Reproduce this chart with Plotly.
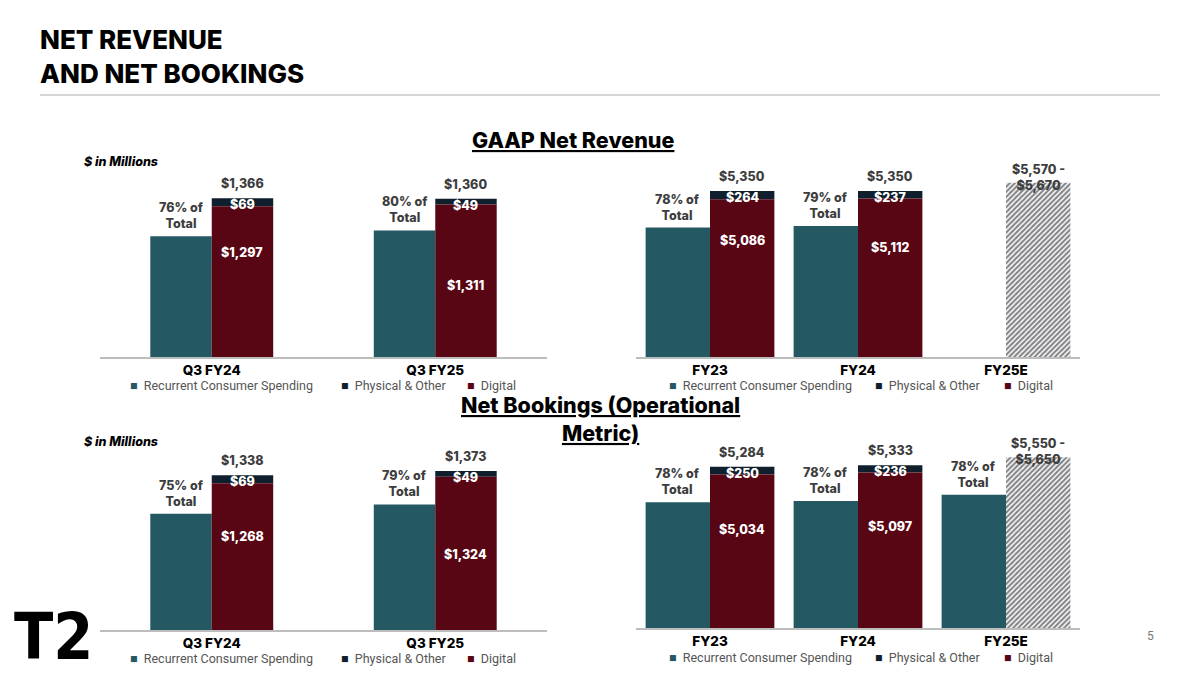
import plotly.graph_objects as go

# ---- data (in $ millions) ----
q_cats = ["Q3 FY24", "Q3 FY25"]
fy_cats = ["FY23", "FY24", "FY25E"]
series_names = ["Recurrent Consumer Spending", "Physical & Other", "Digital"]

rev_q_rcs = [1038, 1088]
rev_q_digital = [1297, 1311]
rev_q_physical = [69, 49]
rev_q_total = [1366, 1360]
rev_q_pct = [76, 80]

rev_fy_rcs = [4173, 4227, None]
rev_fy_digital = [5086, 5112, None]
rev_fy_physical = [264, 237, None]
rev_fy_total = [5350, 5350, None]
rev_fy_pct = [78, 79, None]
rev_fy25e_outlook = 5620
rev_fy25e_range = ["$5,570", "$5,670"]

bk_q_rcs = [1004, 1085]
bk_q_digital = [1268, 1324]
bk_q_physical = [69, 49]
bk_q_total = [1338, 1373]
bk_q_pct = [75, 79]

bk_fy_rcs = [4122, 4160, 4368]
bk_fy_digital = [5034, 5097, None]
bk_fy_physical = [250, 236, None]
bk_fy_total = [5284, 5333, None]
bk_fy_pct = [78, 78, 78]
bk_fy25e_outlook = 5600
bk_fy25e_range = ["$5,550", "$5,650"]

TEAL = "#245862"
WINE = "#590614"
NAVY = "#0f1f2d"
GREY_TXT = "#3d3d3d"
FONT = "Inter"
colors = [TEAL, NAVY, WINE]

W, H = 1200, 675


def px_x(a, b):
    return [a / W, b / W]


def px_y(top, bottom):
    return [1 - bottom / H, 1 - top / H]


fig = go.Figure()
annotations = []


def money(v):
    return "$" + format(v, ",")


def page_text(x_px, y_px, text, font, xanchor="center", **kw):
    # text placed in page pixels; anchors are explicit so plotly's "auto" doesn't move it
    annotations.append(dict(x=x_px / W, y=1 - y_px / H, xref="paper", yref="paper",
                            xanchor=xanchor, yanchor=kw.pop("yanchor", "middle"),
                            text=text, showarrow=False, font=font, **kw))


def add_legend(x_positions, y_px):
    # hand-drawn legend so the square sits close to its label, as on the slide
    for name, col, x0 in zip(series_names, colors, x_positions):
        page_text(x0, y_px, f"<span style='color:{col}'>■</span>  {name}",
                  dict(family="Roboto", size=12.5, color="#555555"), xanchor="left")


def add_panel(n, cats, rcs, digital, physical, total, pct, label_frac, width,
              outlook=None, outlook_range=None):
    sfx = "" if n == 1 else str(n)
    xa, ya = "x" + sfx, "y" + sfx
    bold = dict(family=FONT, size=12.5, color=GREY_TXT, weight=800)
    white = dict(family=FONT, size=12.5, color="white", weight=800)

    fig.add_trace(go.Bar(x=cats, y=rcs, name=series_names[0],
                         marker=dict(color=TEAL, line_width=0), width=width,
                         offset=-width, xaxis=xa, yaxis=ya, hoverinfo="skip"))
    fig.add_trace(go.Bar(x=cats, y=physical, base=digital, name=series_names[1],
                         marker=dict(color=NAVY, line_width=0), width=width,
                         offset=0, xaxis=xa, yaxis=ya, hoverinfo="skip"))
    fig.add_trace(go.Bar(x=cats, y=digital, name=series_names[2],
                         marker=dict(color=WINE, line_width=0), width=width,
                         offset=0, xaxis=xa, yaxis=ya, hoverinfo="skip"))

    if outlook is not None:
        fig.add_trace(go.Bar(x=[cats[-1]], y=[outlook], name="Outlook",
                             marker=dict(color="white", line_width=0,
                                         pattern=dict(shape="/", fgcolor="#080a10",
                                                      bgcolor="white", size=3.6,
                                                      solidity=0.6)),
                             width=width, offset=0, xaxis=xa, yaxis=ya,
                             hoverinfo="skip"))
        annotations.append(dict(x=len(cats) - 1 + width / 2, y=outlook, xref=xa, yref=ya,
                                text=outlook_range[0] + " -<br>" + outlook_range[1],
                                showarrow=False, yanchor="bottom", yshift=-12, font=bold))

    for i in range(len(cats)):
        if pct[i] is not None:
            annotations.append(dict(x=i - width / 2, y=rcs[i], xref=xa, yref=ya,
                                    text=f"{pct[i]}% of<br>Total", showarrow=False,
                                    yanchor="bottom", yshift=3, font=bold))
        if total[i] is not None:
            annotations.append(dict(x=i + width / 2, y=total[i], xref=xa, yref=ya,
                                    text=money(total[i]), showarrow=False,
                                    yanchor="bottom", yshift=5, font=bold))
            annotations.append(dict(x=i + width / 2, y=total[i], xref=xa, yref=ya,
                                    text=money(physical[i]), showarrow=False,
                                    yanchor="top", yshift=3, font=white))
            annotations.append(dict(x=i + width / 2, y=digital[i] * label_frac[i],
                                    xref=xa, yref=ya, text=money(digital[i]),
                                    showarrow=False, yanchor="middle", font=white))


add_panel(1, q_cats, rev_q_rcs, rev_q_digital, rev_q_physical, rev_q_total, rev_q_pct,
          [0.69, 0.47], 0.275)
add_panel(2, fy_cats, rev_fy_rcs, rev_fy_digital, rev_fy_physical, rev_fy_total, rev_fy_pct,
          [0.74, 0.69], 0.435, rev_fy25e_outlook, rev_fy25e_range)
add_panel(3, q_cats, bk_q_rcs, bk_q_digital, bk_q_physical, bk_q_total, bk_q_pct,
          [0.64, 0.49], 0.275)
add_panel(4, fy_cats, bk_fy_rcs, bk_fy_digital, bk_fy_physical, bk_fy_total, bk_fy_pct,
          [0.64, 0.65], 0.435, bk_fy25e_outlook, bk_fy25e_range)

add_legend([128, 339, 465], 385)
add_legend([667, 873, 1002], 385)
add_legend([128, 339, 465], 658)
add_legend([667, 873, 1002], 657)

# page furniture
heading = dict(family=FONT, size=21.5, color="black", weight=800)
note = dict(family=FONT, size=12.5, color="black", weight=800)
page_text(38, 22, "NET REVENUE<br>AND NET BOOKINGS",
          dict(family=FONT, size=26, color="black", weight=800),
          xanchor="left", yanchor="top", align="left")
page_text(573, 140, "<u>GAAP Net Revenue</u>", heading)
page_text(600, 419, "<u>Net Bookings (Operational</u><br><u>Metric)</u>", heading)
page_text(82, 161, "<i>$ in Millions</i>", note, xanchor="left")
page_text(82, 441, "<i>$ in Millions</i>", note, xanchor="left")
page_text(53, 637, "T2", dict(family="DejaVu Sans Condensed, Inter", size=64,
                                color="black", weight=900))
page_text(1150, 636, "5", dict(family="Roboto", size=12, color="#777777"))

xcommon = dict(type="category", showline=True, linecolor="#bdbdbd", linewidth=1.5,
               ticks="", showgrid=False, zeroline=False, fixedrange=True,
               tickfont=dict(family=FONT, size=13.5, color="black", weight=800))
ycommon = dict(visible=False, fixedrange=True, showgrid=False)

fig.update_layout(
    width=W, height=H,
    margin=dict(l=0, r=0, t=0, b=0),
    barmode="overlay",
    showlegend=False,
    paper_bgcolor="white",
    plot_bgcolor="white",
    xaxis=dict(xcommon, domain=px_x(100, 547), anchor="y", range=[-0.5, 1.5]),
    yaxis=dict(ycommon, domain=px_y(170, 357), anchor="x", range=[0, 1608]),
    xaxis2=dict(xcommon, domain=px_x(636, 1080), anchor="y2", range=[-0.5, 2.5]),
    yaxis2=dict(ycommon, domain=px_y(170, 357), anchor="x2", range=[0, 6030]),
    xaxis3=dict(xcommon, domain=px_x(100, 547), anchor="y3", range=[-0.5, 1.5]),
    yaxis3=dict(ycommon, domain=px_y(445, 630), anchor="x3", range=[0, 1598]),
    xaxis4=dict(xcommon, domain=px_x(636, 1080), anchor="y4", range=[-0.5, 2.5]),
    yaxis4=dict(ycommon, domain=px_y(445, 628), anchor="x4", range=[0, 6000]),
    annotations=annotations,
    shapes=[dict(type="line", xref="paper", yref="paper",
                 x0=40 / W, x1=1160 / W, y0=1 - 95 / H, y1=1 - 95 / H,
                 line=dict(color="#c8c8c8", width=1.5))],
)

# drop the browser's default body margin so the slide sits flush in the window
fig.write_html("out.html", config={"displayModeBar": False},
               post_script="document.body.style.margin='0';")
